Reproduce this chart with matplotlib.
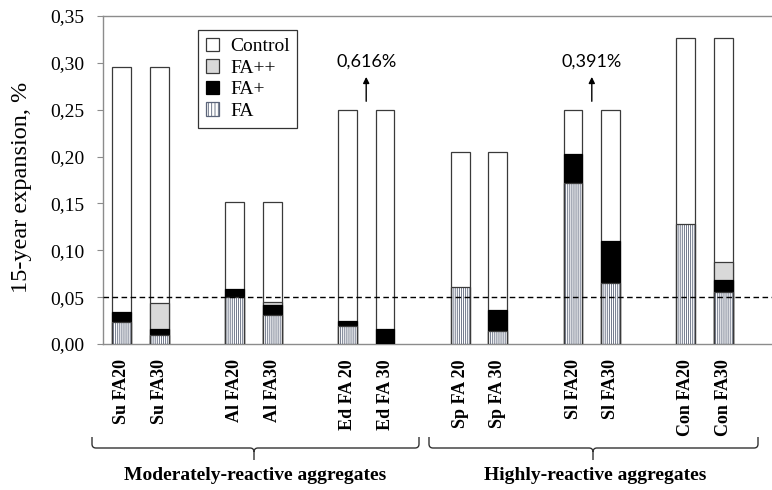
import matplotlib
matplotlib.use("Agg")
import matplotlib.pyplot as plt
from matplotlib.patches import Patch, PathPatch
from matplotlib.path import Path

# ---- data -------------------------------------------------------------
mixes = ["Su FA20", "Su FA30", "Al FA20", "Al FA30", "Ed FA 20", "Ed FA 30",
         "Sp FA 20", "Sp FA 30", "Sl FA20", "Sl FA30", "Con FA20", "Con FA30"]
positions = [0, 1, 3, 4, 6, 7, 9, 10, 12, 13, 15, 16]

control = [0.296, 0.296, 0.151, 0.151, 0.616, 0.616,
           0.205, 0.205, 0.391, 0.391, 0.326, 0.326]
fa_pp = [0.0, 0.044, 0.0, 0.045, 0.0, 0.0,
         0.0, 0.0, 0.0, 0.0, 0.0, 0.087]
fa_p = [0.034, 0.016, 0.059, 0.042, 0.025, 0.016,
        0.0, 0.036, 0.203, 0.110, 0.0, 0.068]
fa = [0.023, 0.010, 0.050, 0.031, 0.019, 0.0,
      0.061, 0.014, 0.172, 0.065, 0.128, 0.055]

limit = 0.05        # expansion limit (dashed line)
y_max = 0.35
cut_height = 0.25   # bars beyond the axis range are cut here and annotated
groups = ["Moderately-reactive aggregates", "Highly-reactive aggregates"]
yticks = [0.00, 0.05, 0.10, 0.15, 0.20, 0.25, 0.30, 0.35]

# ---- style ------------------------------------------------------------
plt.rcParams["font.family"] = ["Liberation Serif", "DejaVu Serif"]
plt.rcParams["hatch.linewidth"] = 0.6

W, H = 772, 490
fig = plt.figure(figsize=(W / 100, H / 100), dpi=100)

def fx(px):
    return px / W

def fy(py):
    return 1 - py / H

ax = fig.add_axes([fx(103), fy(344), 18 * 37.6 / W, (344 - 16) / H])
ax.set_xlim(-0.5, 17.5)
ax.set_ylim(0, y_max)

edge = "#3a3a3a"
hatch_col = "#5b6479"
bw = 0.5

def draw(vals, **kw):
    xs = [p for p, v in zip(positions, vals) if v > 0]
    hs = [v for v in vals if v > 0]
    return ax.bar(xs, hs, width=bw, **kw)

shown_control = [v if v <= y_max else cut_height for v in control]
draw(shown_control, facecolor="white", edgecolor=edge, linewidth=0.9, zorder=2)
draw(fa_pp, facecolor="#d9d9d9", edgecolor=edge, linewidth=0.9, zorder=3)
draw(fa_p, facecolor="black", edgecolor="black", linewidth=0.9, zorder=4)
draw(fa, facecolor="white", edgecolor=hatch_col, linewidth=0, hatch="|" * 8, zorder=5)
draw(fa, fill=False, edgecolor=edge, linewidth=0.9, zorder=6)

# limit line
ax.axhline(limit, color="black", linestyle=(0, (4, 2.5)), linewidth=1.0, zorder=7)

# arrows for bars cut at the display height
for i in range(0, len(control), 2):
    if control[i] > y_max:
        xc = (positions[i] + positions[i + 1]) / 2
        ax.annotate("", xy=(xc, cut_height + 0.035), xytext=(xc, cut_height + 0.009),
                    arrowprops=dict(arrowstyle="-|>", color="black", lw=1.0,
                                    mutation_scale=9, shrinkA=0, shrinkB=0))
        ax.text(xc, cut_height + 0.051, f"{control[i]:.3f}".replace(".", ",") + "%",
                ha="center", va="center", fontsize=13, family="Lato", color="black")

# axes styling
axis_col = "#8c8c8c"
for s in ["left", "bottom", "top"]:
    ax.spines[s].set_color(axis_col)
    ax.spines[s].set_linewidth(1.0)
ax.spines["right"].set_visible(False)

ax.set_yticks(yticks)
ax.set_yticklabels([f"{t:.2f}".replace(".", ",") for t in yticks], fontsize=14)
ax.tick_params(axis="y", direction="out", length=4, color=axis_col, pad=9.5)
ax.set_xticks(positions)
ax.set_xticklabels(mixes, rotation=90, fontsize=13, fontweight="bold", va="top")
ax.tick_params(axis="x", length=0, pad=11)

fig.text(fx(22), fy(187), "15-year expansion, %", rotation=90, ha="center",
         va="center", fontsize=17.5)

# legend
handles = [
    Patch(facecolor="white", edgecolor=edge, linewidth=0.9, label="Control"),
    Patch(facecolor="#d9d9d9", edgecolor=edge, linewidth=0.9, label="FA++"),
    Patch(facecolor="black", edgecolor="black", linewidth=0.9, label="FA+"),
    Patch(facecolor="white", edgecolor=hatch_col, linewidth=0.9, hatch="|" * 5, label="FA"),
]
leg = fig.legend(handles=handles, loc="upper left", bbox_to_anchor=(fx(198), fy(30)),
                 fontsize=14, frameon=True, fancybox=False, edgecolor="black",
                 handlelength=0.7, handleheight=0.7, handletextpad=0.55,
                 labelspacing=0.2, borderpad=0.4, borderaxespad=0)
leg.get_frame().set_linewidth(0.9)

# group braces
def brace(x0, x1, xm, ytop, yline, ybot):
    r = 4
    verts = [
        (x0, ytop), (x0, yline - r), (x0, yline), (x0 + r, yline),
        (xm - r, yline), (xm, yline), (xm, yline + r), (xm, ybot),
        (xm, yline + r), (xm, yline), (xm + r, yline),
        (x1 - r, yline), (x1, yline), (x1, yline - r), (x1, ytop),
    ]
    codes = [Path.MOVETO, Path.LINETO, Path.CURVE3, Path.CURVE3,
             Path.LINETO, Path.CURVE3, Path.CURVE3, Path.LINETO,
             Path.MOVETO, Path.CURVE3, Path.CURVE3,
             Path.LINETO, Path.CURVE3, Path.CURVE3, Path.LINETO]
    pts = [(fx(x), fy(y)) for x, y in verts]
    fig.add_artist(PathPatch(Path(pts, codes), transform=fig.transFigure,
                             fill=False, edgecolor="#333333", linewidth=1.0))

brace(92, 419, 254, 437, 448, 460)
brace(429, 758, 593, 437, 448, 460)

fig.text(fx(255), fy(475), groups[0], ha="center", va="center",
         fontsize=14, fontweight="bold")
fig.text(fx(595), fy(475), groups[1], ha="center", va="center",
         fontsize=14, fontweight="bold")

fig.savefig("out.png", dpi=100)
